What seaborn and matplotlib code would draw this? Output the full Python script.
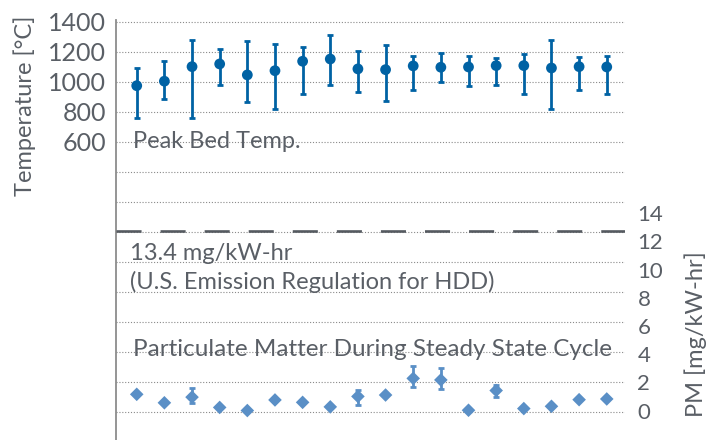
import numpy as np
import pandas as pd
import matplotlib
matplotlib.use("Agg")
import matplotlib.pyplot as plt
import seaborn as sns

sns.set_theme(style="white")
plt.rcParams['font.family'] = ['Lato', 'DejaVu Sans']

# test run number
runs = list(range(1, 19))

# peak bed temperature (deg C): mean, lower and upper ends of the bar
temp_mean = [975, 1005, 1102, 1120, 1047, 1075, 1138, 1153, 1087,
             1082, 1107, 1098, 1100, 1109, 1109, 1093, 1102, 1100]
temp_low = [758, 887, 758, 978, 865, 820, 918, 978, 935,
            873, 945, 1000, 971, 978, 918, 822, 949, 918]
temp_high = [1091, 1142, 1280, 1218, 1273, 1253, 1235, 1313, 1204,
             1247, 1173, 1191, 1173, 1158, 1189, 1280, 1167, 1173]

# particulate matter (mg/kW-hr): mean, lower and upper ends
pm_mean = [1.15, 0.55, 0.95, 0.22, 0.0, 0.75, 0.58, 0.26, 1.0,
           1.1, 2.28, 2.17, 0.02, 1.42, 0.14, 0.3, 0.77, 0.82]
pm_low = [1.15, 0.55, 0.53, 0.22, 0.0, 0.75, 0.58, 0.26, 0.4,
          1.1, 1.66, 1.55, 0.02, 0.93, 0.14, 0.3, 0.77, 0.82]
pm_high = [1.15, 0.55, 1.63, 0.22, 0.0, 0.75, 0.58, 0.26, 1.48,
           1.1, 3.15, 3.03, 0.02, 1.82, 0.14, 0.3, 0.77, 0.82]

# regulation line as drawn in the picture, and its label
reg_line = 12.7
reg_label = "13.4 mg/kW-hr\n(U.S. Emission Regulation for HDD)"

temp_ticks = [600, 800, 1000, 1200, 1400]
pm_ticks = [0, 2, 4, 6, 8, 10, 12, 14]

df_t = pd.DataFrame({'run': runs, 'temp': temp_mean})
df_p = pd.DataFrame({'run': runs, 'pm': pm_mean})

TEXT = '#5a5f66'
BLUE = '#0062a4'
LBLUE = '#5a8fc6'

fig = plt.figure(figsize=(7.08, 4.4), dpi=100)
ax = fig.add_axes([116 / 708, 0.0, (625 - 116) / 708, 1 - 20 / 440])
ax2 = ax.twinx()

# temperature
ax.errorbar(runs, temp_mean,
            yerr=[np.array(temp_mean) - np.array(temp_low),
                  np.array(temp_high) - np.array(temp_mean)],
            fmt='none', ecolor=BLUE, elinewidth=2.0, capsize=2.2, capthick=2.0, zorder=3)
sns.scatterplot(data=df_t, x='run', y='temp', ax=ax, color=BLUE, s=60,
                edgecolor='none', zorder=4, legend=False)

# particulate matter
ax2.errorbar(runs, pm_mean,
             yerr=[np.array(pm_mean) - np.array(pm_low),
                   np.array(pm_high) - np.array(pm_mean)],
             fmt='none', ecolor=LBLUE, elinewidth=2.0, capsize=2.2, capthick=2.0, zorder=3)
sns.scatterplot(data=df_p, x='run', y='pm', ax=ax2, color=LBLUE, marker='D', s=48,
                edgecolor='none', zorder=4, legend=False)
ax2.axhline(reg_line, color='#555a60', lw=1.9, ls=(0, (9.5, 7.2)), zorder=2)

# axes scales
ax.set_xlim(0.25, 18.66)
ax.set_ylim(-1387, 1413)
ax2.set_ylim(-2.09, 27.7)

grid_vals = list(range(-1200, 1401, 200))
ax.set_yticks(grid_vals)
ax.set_yticklabels([str(v) if v in temp_ticks else '' for v in grid_vals])
ax.yaxis.grid(True, color='#8a8a8a', ls=(0, (1, 1.6)), lw=0.8)
ax.set_xticks([])
ax2.set_yticks(pm_ticks)
ax2.set_yticklabels([str(v) for v in pm_ticks])

ax.tick_params(axis='y', length=0, pad=7, labelsize=18, labelcolor=TEXT)
ax2.tick_params(axis='y', length=0, pad=9, labelsize=16, labelcolor=TEXT)
for a in (ax, ax2):
    for s in ('top', 'right', 'bottom'):
        a.spines[s].set_visible(False)
    a.set_xlabel('')
    a.set_ylabel('')
ax2.spines['left'].set_visible(False)
ax.spines['left'].set_color('#8c8c8c')
ax.spines['left'].set_linewidth(1.3)

# annotations
ax.text(0.87, 603, "Peak Bed Temp.", fontsize=17, color=TEXT, va='center', ha='left')
ax2.text(0.75, 10.1, reg_label, fontsize=17, color=TEXT, va='center', ha='left',
         linespacing=1.35)
ax2.text(0.87, 4.3, "Particulate Matter During Steady State Cycle", fontsize=17.5,
         color=TEXT, va='center', ha='left')

fig.text(25 / 708, 1 - 106 / 440, "Temperature [°C]", rotation=90, fontsize=17,
         color=TEXT, ha='center', va='center')
fig.text(696 / 708, 1 - 334 / 440, "PM [mg/kW-hr]", rotation=90, fontsize=17,
         color=TEXT, ha='center', va='center')

fig.savefig('out.png', dpi=100)
